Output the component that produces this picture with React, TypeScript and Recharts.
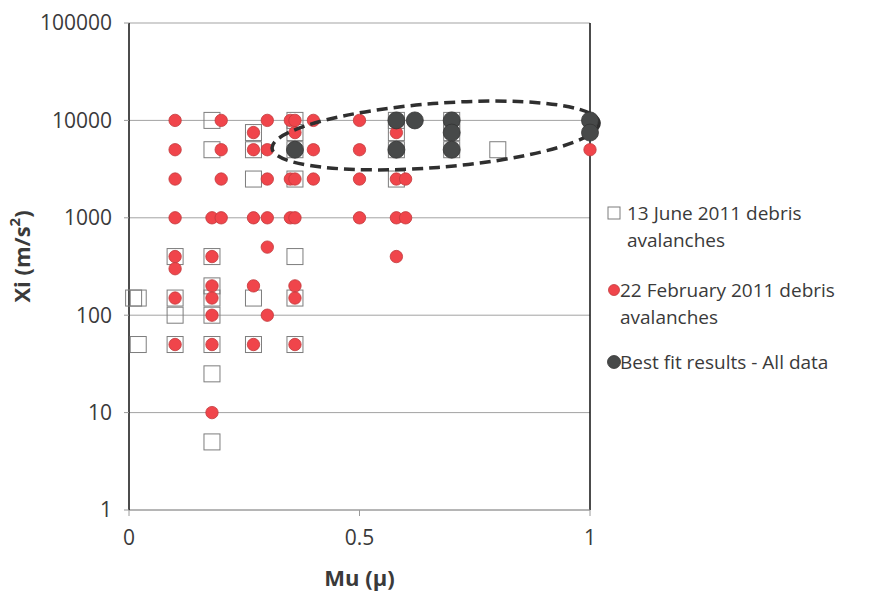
import React from "react";
import {
  ScatterChart,
  Scatter,
  XAxis,
  YAxis,
  CartesianGrid,
  ReferenceLine,
  Legend,
} from "recharts";

// 13 June 2011 debris avalanches (open squares)
const juneMu = [
  0.01, 0.02, 0.02,
  0.1, 0.1, 0.1, 0.1,
  0.18, 0.18, 0.18, 0.18, 0.18, 0.18, 0.18, 0.18, 0.18,
  0.27, 0.27, 0.27, 0.27, 0.27,
  0.36, 0.36, 0.36, 0.36, 0.36, 0.36, 0.36,
  0.58, 0.58, 0.58, 0.58,
  0.7, 0.7, 0.7,
  0.8,
];
const juneXi = [
  150, 150, 50,
  400, 150, 100, 50,
  10000, 5000, 400, 200, 150, 100, 50, 25, 5,
  7500, 5000, 2500, 150, 50,
  10000, 7500, 5000, 2500, 400, 150, 50,
  10000, 7500, 5000, 2500,
  10000, 7500, 5000,
  5000,
];

// 22 February 2011 debris avalanches (red dots)
const febMu = [
  0.1, 0.1, 0.1, 0.1, 0.1, 0.1, 0.1, 0.1,
  0.18, 0.18, 0.18, 0.18, 0.18, 0.18, 0.18,
  0.2, 0.2, 0.2, 0.2,
  0.27, 0.27, 0.27, 0.27, 0.27,
  0.3, 0.3, 0.3, 0.3, 0.3, 0.3,
  0.35, 0.35, 0.35,
  0.36, 0.36, 0.36, 0.36, 0.36, 0.36, 0.36,
  0.4, 0.4, 0.4,
  0.5, 0.5, 0.5, 0.5,
  0.58, 0.58, 0.58, 0.58,
  0.6, 0.6,
  1.0,
];
const febXi = [
  10000, 5000, 2500, 1000, 400, 300, 150, 50,
  1000, 400, 200, 150, 100, 50, 10,
  10000, 5000, 2500, 1000,
  7500, 5000, 1000, 200, 50,
  10000, 5000, 2500, 1000, 500, 100,
  10000, 2500, 1000,
  10000, 7500, 2500, 1000, 200, 150, 50,
  10000, 5000, 2500,
  10000, 5000, 2500, 1000,
  7500, 2500, 1000, 400,
  2500, 1000,
  5000,
];

// Best fit results - All data (dark dots)
const fitMu = [0.36, 0.58, 0.58, 0.62, 0.7, 0.7, 0.7, 1.0, 1.0];
const fitXi = [5000, 10000, 5000, 10000, 10000, 7500, 5000, 10000, 7500];

// dashed outline drawn around the best fit group
const outlineMu = [0.665];
const outlineXi = [7000];

const xTicks = [0, 0.5, 1];
const yTicks = [1, 10, 100, 1000, 10000, 100000];

const zip = (xs: number[], ys: number[]) => xs.map((x, i) => ({ x, y: ys[i] }));

const juneData = zip(juneMu, juneXi);
const febData = zip(febMu, febXi);
const fitData = zip(fitMu, fitXi);
const outlineData = zip(outlineMu, outlineXi);

const FONT = "'Open Sans', 'Noto Sans', sans-serif";
const TEXT = "#3a3a3a";

const SquareShape = (props: any) => {
  const { cx, cy } = props;
  return (
    <rect x={cx - 8} y={cy - 8} width={16} height={16} fill="none" stroke="#7d7d7d" strokeWidth={1} />
  );
};

const RedShape = (props: any) => {
  const { cx, cy } = props;
  return <circle cx={cx} cy={cy} r={6.2} fill="#f0454b" stroke="#c23a3c" strokeWidth={0.8} />;
};

const FitShape = (props: any) => {
  const { cx, cy } = props;
  return <circle cx={cx} cy={cy} r={8.5} fill="#474949" stroke="#333" strokeWidth={0.8} />;
};

const OutlineShape = (props: any) => {
  const { cx, cy } = props;
  return (
    <ellipse
      cx={cx}
      cy={cy}
      rx={164}
      ry={32}
      fill="none"
      stroke="#2f2f2f"
      strokeWidth={3.5}
      strokeDasharray="11 6"
      transform={`rotate(-4.5 ${cx} ${cy})`}
    />
  );
};

const YTitle = (props: any) => {
  const { viewBox } = props;
  const x = viewBox.x + 24;
  const y = viewBox.y + viewBox.height / 2 - 10;
  return (
    <text
      x={x}
      y={y}
      transform={`rotate(-90 ${x} ${y})`}
      textAnchor="middle"
      dominantBaseline="middle"
      fontFamily={FONT}
      fontSize={22}
      fontWeight="bold"
      fill={TEXT}
    >
      Xi (m/s
      <tspan dy={-8} fontSize={15}>
        2
      </tspan>
      <tspan dy={8}>)</tspan>
    </text>
  );
};

const XTitle = (props: any) => {
  const { viewBox } = props;
  return (
    <text
      x={viewBox.x + viewBox.width / 2}
      y={viewBox.y + 70}
      textAnchor="middle"
      dominantBaseline="middle"
      fontFamily={FONT}
      fontSize={22}
      fontWeight="bold"
      fill={TEXT}
    >
      Mu (μ)
    </text>
  );
};

const legendItems = [
  { lines: ["13 June 2011 debris", "avalanches"], icon: "square", top: 0 },
  { lines: ["22 February 2011 debris", "avalanches"], icon: "red", top: 77 },
  { lines: ["Best fit results - All data"], icon: "fit", top: 149 },
];

const LegendIcon = ({ kind }: { kind: string }) => (
  <svg width={16} height={16} style={{ position: "absolute", left: 0, top: 5 }}>
    {kind === "square" && <rect x={2} y={2} width={12} height={12} fill="none" stroke="#7d7d7d" />}
    {kind === "red" && <circle cx={8} cy={8} r={5.5} fill="#f0454b" stroke="#c23a3c" strokeWidth={0.8} />}
    {kind === "fit" && <circle cx={8} cy={8} r={6.5} fill="#474949" stroke="#333" strokeWidth={0.8} />}
  </svg>
);

const renderLegend = () => (
  <div style={{ position: "relative", width: 270, height: 200, fontFamily: FONT, fontSize: 19, color: TEXT }}>
    {legendItems.map((item) => (
      <div key={item.lines[0]} style={{ position: "absolute", left: 0, top: item.top, lineHeight: "27px" }}>
        <LegendIcon kind={item.icon} />
        <div style={{ marginLeft: item.icon === "square" ? 21 : 14, whiteSpace: "nowrap" }}>
          {item.lines.map((l) => (
            <div key={l}>{l}</div>
          ))}
        </div>
      </div>
    ))}
  </div>
);

export default function App() {
  return (
    <div style={{ position: "absolute", left: 0, top: 0, background: "#fff" }}>
      <ScatterChart width={870} height={596} margin={{ top: 23, right: 10, bottom: 0, left: 0 }}>
        <CartesianGrid vertical={false} stroke="#a3a3a3" strokeWidth={1} />
        <XAxis
          type="number"
          dataKey="x"
          domain={[0, 1]}
          ticks={xTicks}
          height={86}
          tickSize={6}
          tickMargin={14}
          stroke="#9a9a9a"
          tick={{ fill: TEXT, fontSize: 21, fontFamily: FONT }}
          label={<XTitle />}
        />
        <YAxis
          type="number"
          dataKey="y"
          scale="log"
          domain={[1, 100000]}
          ticks={yTicks}
          allowDataOverflow
          width={129}
          tickSize={5}
          tickMargin={12}
          axisLine={{ stroke: "#111", strokeWidth: 1.5 }}
          tickLine={{ stroke: "#9a9a9a" }}
          tick={{ fill: TEXT, fontSize: 21, fontFamily: FONT }}
          label={<YTitle />}
        />
        <ReferenceLine x={1} stroke="#111" strokeWidth={1.5} />
        <Legend
          content={renderLegend}
          layout="vertical"
          align="right"
          verticalAlign="top"
          wrapperStyle={{ left: 606, top: 200, width: 270 }}
        />
        <Scatter name="13 June 2011 debris avalanches" data={juneData} shape={SquareShape} isAnimationActive={false} />
        <Scatter name="22 February 2011 debris avalanches" data={febData} shape={RedShape} isAnimationActive={false} />
        <Scatter name="outline" data={outlineData} shape={OutlineShape} legendType="none" isAnimationActive={false} />
        <Scatter name="Best fit results - All data" data={fitData} shape={FitShape} isAnimationActive={false} />
      </ScatterChart>
    </div>
  );
}
